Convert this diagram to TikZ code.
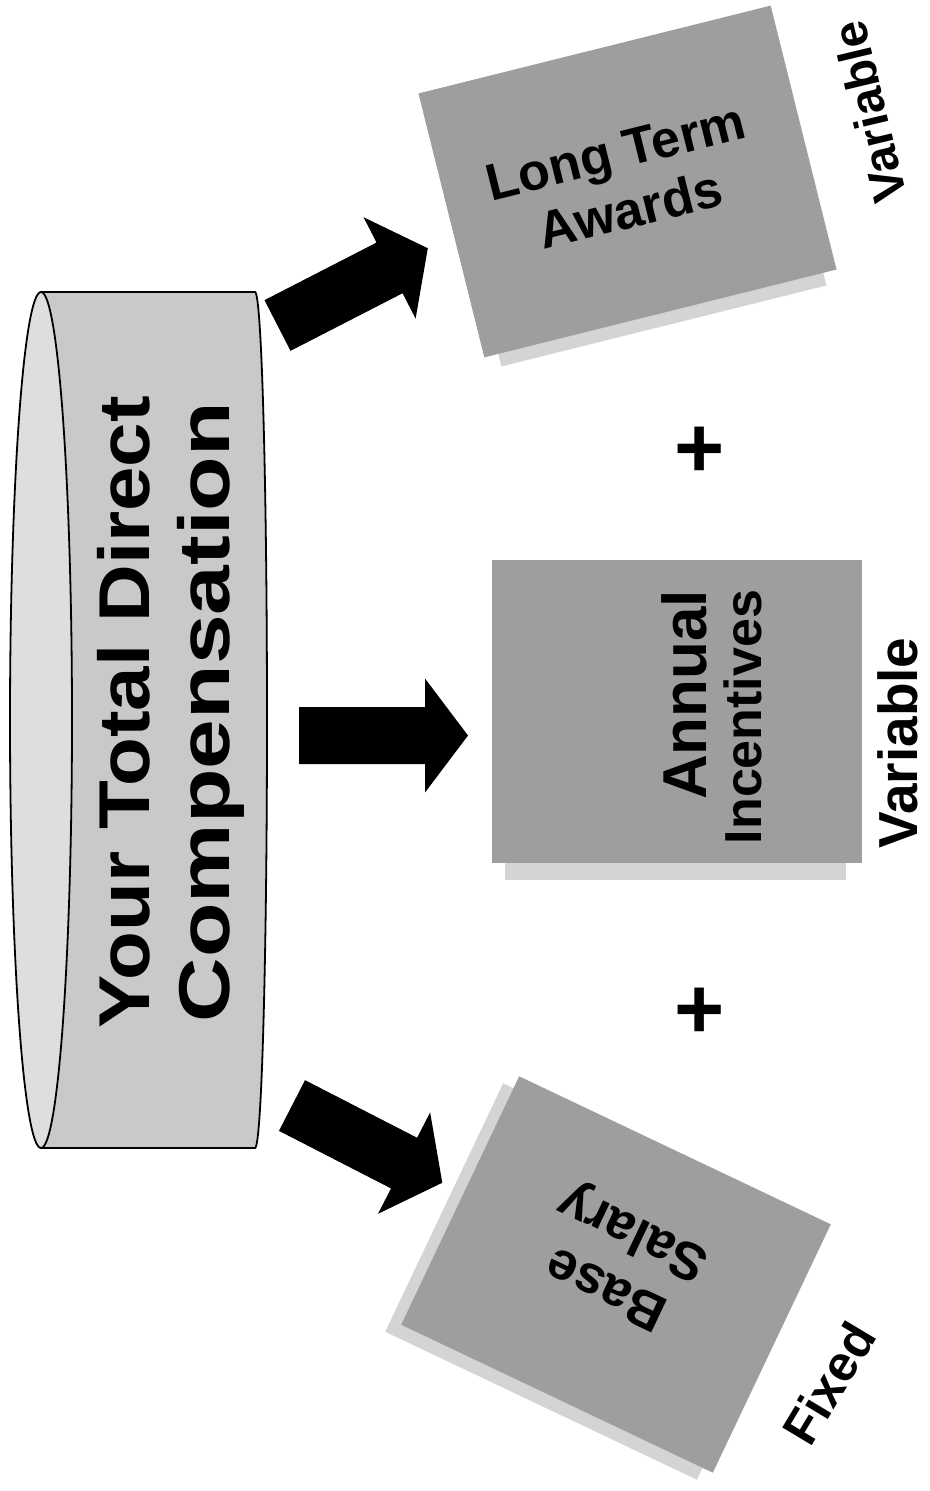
\documentclass[tikz,border=0pt]{standalone}
\usepackage{fontspec}
\setmainfont{Liberation Sans}
\usepackage{graphicx}
\begin{document}
\begin{tikzpicture}[x=1pt,y=-1pt,
  cylbody/.style={fill=gray!42},
  cylcap/.style={fill=gray!26},
  outline/.style={draw=black, line width=1.8pt},
  card/.style={fill=gray!76, draw=none, inner sep=0pt, outer sep=0pt},
  cardshadow/.style={fill=gray!34, draw=none, inner sep=0pt, outer sep=0pt},
  blockarrow/.style={fill=black},
]
\useasboundingbox (0,0) rectangle (929,1491);

% cylinder
\fill[cylbody] (41,292) -- (255,292) .. controls (261.6,292) and (267,483.6) .. (267,720)
   .. controls (267,956.4) and (261.6,1148) .. (255,1148) -- (41,1148) -- cycle;
\draw[outline] (41,292) -- (255,292) .. controls (261.6,292) and (267,483.6) .. (267,720)
   .. controls (267,956.4) and (261.6,1148) .. (255,1148) -- (41,1148);
\draw[outline, cylcap] (41,720) ellipse [x radius=31, y radius=428];
\node[rotate=90, align=center, font=\bfseries\fontsize{72}{80}\selectfont] (cyltext) at (171,712)
  {\scalebox{1.11}[1]{Your Total Direct}\\\scalebox{1.24}[1]{Compensation}};

% cards
\node[cardshadow, rotate=14, minimum width=335pt, minimum height=272pt] (ltashadow) at (631,194) {};
\node[card, rotate=14, minimum width=363pt, minimum height=272pt] (lta) at (627.5,181.5) {};
\node[cardshadow, minimum width=341pt, minimum height=305pt] (aishadow) at (675.5,727.5) {};
\node[card, minimum width=370pt, minimum height=303pt] (ai) at (677,711.5) {};
\node[cardshadow, rotate=-25.4, minimum width=345pt, minimum height=275pt] (bsshadow) at (600,1281.5) {};
\node[card, rotate=-25.4, minimum width=345pt, minimum height=275pt] (bs) at (616,1274.5) {};

\node[rotate=14, align=center, font=\bfseries\fontsize{52}{60}\selectfont] (ltatext) at (623,181) {Long Term\\Awards};
\node[rotate=90, align=right, font=\bfseries\fontsize{52}{55}\selectfont] (aitext) at (712,717)
  {{\fontsize{62}{55}\selectfont Annual}\\Incentives};
\node[rotate=154.6, align=center, font=\bfseries\fontsize{53}{62}\selectfont] (bstext) at (621,1258) {Base\\Salary};

% arrows
\coordinate (t1) at (277.5,325.5);
\coordinate (t2) at (299,735.5);
\coordinate (t3) at (292,1105.5);
\foreach \c/\a in {t1/27.2, t2/0, t3/-27.2}
  \fill[blockarrow, shift={(\c)}, rotate=\a] (0,-28.5) -- (126,-28.5) -- (126,-57) -- (169,0)
     -- (126,57) -- (126,28.5) -- (0,28.5) -- cycle;

% labels
\node[rotate=103.4, font=\bfseries\fontsize{48}{50}\selectfont] (v1) at (869,112) {Variable};
\node[rotate=90, font=\bfseries\fontsize{55}{60}\selectfont] (v2) at (898,743) {Variable};
\node[rotate=59, font=\bfseries\fontsize{50}{55}\selectfont] (fx) at (829,1383) {Fixed};
\node[font=\bfseries\fontsize{86}{90}\selectfont] (p1) at (700,452) {+};
\node[font=\bfseries\fontsize{86}{90}\selectfont] (p2) at (700,1013) {+};
\end{tikzpicture}
\end{document}
